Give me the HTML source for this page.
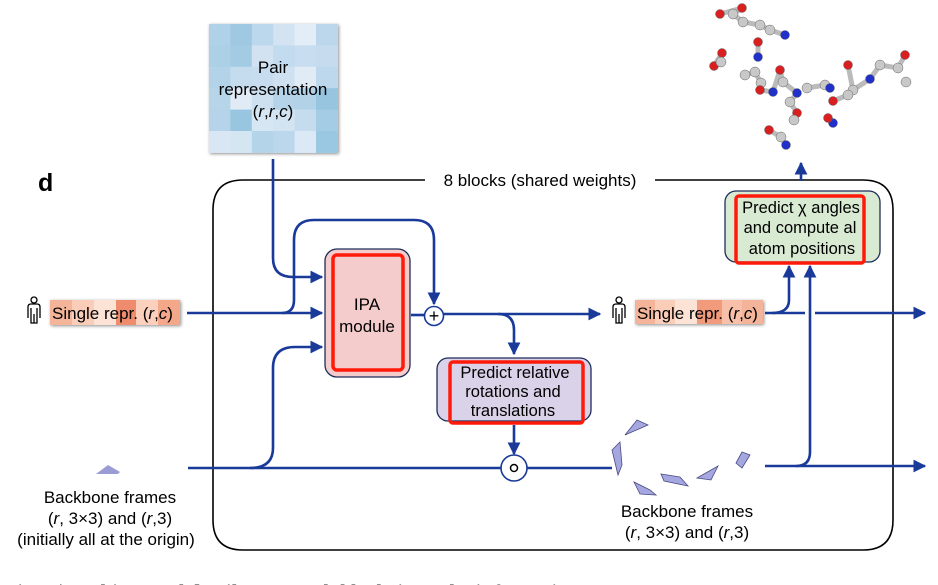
<!DOCTYPE html>
<html><head><meta charset="utf-8"><style>
html,body{margin:0;padding:0;background:#fff;width:938px;height:585px;overflow:hidden}
svg{display:block;font-family:"Liberation Sans",sans-serif}
</style></head><body>
<svg width="938" height="585" viewBox="0 0 938 585">
<defs>
<marker id="ah" viewBox="0 0 10 10" refX="9" refY="5" markerWidth="5" markerHeight="5" orient="auto"><path d="M0,0 L10,5 L0,10 z" fill="#1a3a9a"/></marker>
<filter id="sh" x="-10%" y="-10%" width="130%" height="130%"><feDropShadow dx="1" dy="1" stdDeviation="1.5" flood-opacity="0.45"/></filter>
</defs>

<g filter="url(#sh)">
<g id="pairgrid"></g>
</g>
<text x="273" y="73" font-size="17" text-anchor="middle">Pair</text>
<text x="273" y="95" font-size="17" text-anchor="middle">representation</text>
<text x="273" y="117" font-size="17" text-anchor="middle">(<tspan font-style="italic">r</tspan>,<tspan font-style="italic">r</tspan>,<tspan font-style="italic">c</tspan>)</text>

<text x="38" y="191" font-size="25" font-weight="bold">d</text>

<path d="M425,180 L243,180 Q213,180 213,210 L213,520 Q213,550 243,550 L863,550 Q893,550 893,520 L893,210 Q893,180 863,180 L655,180" fill="none" stroke="#000" stroke-width="1.6"/>
<text x="540" y="186" font-size="17" text-anchor="middle">8 blocks (shared weights)</text>

<g fill="none" stroke="#1a3a9a" stroke-width="2.6">
<path d="M273,159 L273,258 Q273,277 293,277 L322,277" marker-end="url(#ah)"/>
<path d="M187,313 L322,313" marker-end="url(#ah)"/>
<path d="M282,313 Q294,313 294,300 L294,240 Q294,220 314,220 L414,220 Q434,220 434,240 L434,304" marker-end="url(#ah)"/>
<path d="M411,315 L425,315"/>
<path d="M443,314 L600,314" marker-end="url(#ah)"/>
<path d="M498,314 Q514,314 514,330 L514,354" marker-end="url(#ah)"/>
<path d="M514,425 L514,454" marker-end="url(#ah)"/>
<path d="M188,468 L501,468"/>
<path d="M527,468 L612,468"/>
<path d="M250,468 Q273,468 273,448 L273,368 Q273,347 295,347 L322,347" marker-end="url(#ah)"/>
<path d="M765,313 L805,313"/>
<path d="M815,313 L925,313" marker-end="url(#ah)"/>
<path d="M772,313 Q789,313 789,300 L789,266" marker-end="url(#ah)"/>
<path d="M765,466 L925,466" marker-end="url(#ah)"/>
<path d="M796,466 Q810,466 810,452 L810,266" marker-end="url(#ah)"/>
<path d="M801,181 L801,163" marker-end="url(#ah)"/>
</g>

<rect x="325" y="249" width="85" height="128" rx="12" fill="#f4cccc" stroke="#1f2d5a" stroke-width="1.3"/>
<rect x="333" y="255" width="70" height="115" rx="4" fill="none" stroke="#ff1a0a" stroke-width="3.5"/>
<text x="367" y="310" font-size="17" text-anchor="middle">IPA</text>
<text x="367" y="332" font-size="17" text-anchor="middle">module</text>

<circle cx="434" cy="316" r="9.5" fill="#fff" stroke="#1a3a9a" stroke-width="1.6"/>
<text x="434" y="322" font-size="18" text-anchor="middle">+</text>

<rect x="437" y="358" width="154" height="63" rx="11" fill="#d9d2e9" stroke="#1f2d5a" stroke-width="1.3"/>
<rect x="450" y="362" width="133" height="61" rx="3" fill="none" stroke="#ff1a0a" stroke-width="3.5"/>
<text x="515" y="378" font-size="16.5" text-anchor="middle">Predict relative</text>
<text x="513" y="397" font-size="16.5" text-anchor="middle">rotations and</text>
<text x="513" y="416" font-size="16.5" text-anchor="middle">translations</text>

<circle cx="514" cy="468" r="13" fill="#fff" stroke="#1a3a9a" stroke-width="1.6"/>
<circle cx="514" cy="468" r="3.5" fill="none" stroke="#000" stroke-width="1.5"/>

<rect x="725" y="191" width="155" height="71" rx="11" fill="#d9ead3" stroke="#1f2d5a" stroke-width="1.3"/>
<rect x="736" y="196" width="128" height="67" rx="3" fill="none" stroke="#ff1a0a" stroke-width="3.5"/>
<text x="801" y="213" font-size="16.5" text-anchor="middle">Predict χ angles</text>
<text x="800" y="233" font-size="16.5" text-anchor="middle">and compute al</text>
<text x="802" y="254" font-size="16.5" text-anchor="middle">atom positions</text>

<g>
<g filter="url(#sh)"><rect x="50" y="300" width="130" height="25" fill="#f4b49a"/></g>
<rect x="72" y="300" width="22" height="25" fill="#f9cdb8"/><rect x="94" y="300" width="22" height="25" fill="#fde3d6"/><rect x="116" y="300" width="20" height="25" fill="#f08c6e"/><rect x="136" y="300" width="22" height="25" fill="#fbd0bd"/><rect x="158" y="300" width="22" height="25" fill="#f5a889"/>
<text x="52" y="319" font-size="17">Single repr. (<tspan font-style="italic">r</tspan>,<tspan font-style="italic">c</tspan>)</text>
</g>
<g>
<g filter="url(#sh)"><rect x="635" y="300" width="128" height="24" fill="#f4b49a"/></g>
<rect x="655" y="300" width="20" height="24" fill="#f9cdb8"/><rect x="675" y="300" width="22" height="24" fill="#fde3d6"/><rect x="697" y="300" width="25" height="24" fill="#f29a7c"/><rect x="722" y="300" width="20" height="24" fill="#f8c0a8"/>
<text x="637" y="319" font-size="17">Single repr. (<tspan font-style="italic">r</tspan>,<tspan font-style="italic">c</tspan>)</text>
</g>
<g fill="#fff" stroke="#000" stroke-width="1.3">
<circle cx="34" cy="300" r="3"/><path d="M28,318 L28,307 Q28,304 31,304 L37,304 Q40,304 40,307 L40,318 M31,308 L31,323 L37,323 L37,308 M34,314 L34,323"/>
<circle cx="619" cy="300" r="3"/><path d="M613,318 L613,307 Q613,304 616,304 L622,304 Q625,304 625,307 L625,318 M616,308 L616,323 L622,323 L622,308 M619,314 L619,323"/>
</g>

<polygon points="96,474 108,465 120,472 118,474" fill="#9b9bd6"/>
<g fill="#a5a7e0" stroke="#4a4a80" stroke-width="0.8">
<polygon points="625,435 637,420 648,425"/>
<polygon points="612,450 620,442 622,465 618,475"/>
<polygon points="634,482 650,490 656,495 640,494"/>
<polygon points="661,474 680,477 688,486 664,481"/>
<polygon points="697,478 718,466 711,480"/>
<polygon points="736,463 742,452 750,455 742,468"/>
</g>
<text x="110" y="503" font-size="17" text-anchor="middle">Backbone frames</text>
<text x="110" y="524" font-size="17" text-anchor="middle">(<tspan font-style="italic">r</tspan>, 3×3) and (<tspan font-style="italic">r</tspan>,3)</text>
<text x="106" y="545" font-size="17" text-anchor="middle">(initially all at the origin)</text>
<text x="687" y="517" font-size="17" text-anchor="middle">Backbone frames</text>
<text x="687" y="538" font-size="17" text-anchor="middle">(<tspan font-style="italic">r</tspan>, 3×3) and (<tspan font-style="italic">r</tspan>,3)</text>

<g id="mol"></g>

<text x="2" y="599" font-size="21" font-family="Liberation Serif,serif" font-weight="bold" font-style="italic" fill="#222">Fig. 3 | Architectural details. For each block, its ... the information</text>
</svg>
<script>
const pairShades=[
["#b0d2e8","#9fc9e3","#bcd8ec","#d3e3f2","#e3edf7","#bcd7eb"],
["#acd0e6","#a3cbe4","#d2e2f1","#c3dbee","#c8ddef","#c6dcee"],
["#b3d3e8","#c5dcee","#c7dcee","#cfe1f1","#e0ebf6","#bdd8ec"],
["#b6d5e9","#e0ebf6","#cce0f0","#b4d3e9","#b2d2e8","#97c5e0"],
["#b5d4e9","#98c6e0","#d6e6f3","#d2e3f2","#c5dbee","#a4cce4"],
["#d9e7f4","#d5e6f3","#b4d4e9","#bcd7eb","#dbe8f5","#9ac7e1"]];
const g=document.getElementById('pairgrid');
pairShades.forEach((row,i)=>row.forEach((c,j)=>{
 const r=document.createElementNS('http://www.w3.org/2000/svg','rect');
 r.setAttribute('x',209+j*21.4);r.setAttribute('y',24+i*21.4);
 r.setAttribute('width',21.9);r.setAttribute('height',21.9);r.setAttribute('fill',c);
 
 
 g.appendChild(r);}));
const atoms=[[720,14,"r"],[742,8,"r"],[733,14,"w"],[743,22,"w"],[760,25,"w"],[770,30,"w"],[785,35,"b"],[758,42,"r"],[758,57,"b"],[722,53,"r"],[714,66,"r"],[721,62,"w"],[745,75,"w"],[755,72,"w"],[761,83,"w"],[760,90,"r"],[773,92,"b"],[780,70,"r"],[783,82,"w"],[797,93,"b"],[790,102,"w"],[797,113,"r"],[794,120,"w"],[769,130,"r"],[781,137,"w"],[786,145,"b"],[807,88,"w"],[825,85,"w"],[830,88,"b"],[848,65,"r"],[853,90,"w"],[870,79,"b"],[880,65,"w"],[898,68,"w"],[905,55,"r"],[906,82,"w"],[833,101,"r"],[848,95,"w"],[833,123,"b"],[828,118,"r"]];
const mol=document.getElementById('mol');
const NS='http://www.w3.org/2000/svg';
for(let k=1;k<atoms.length;k++){const a=atoms[k-1],b=atoms[k];if(Math.hypot(a[0]-b[0],a[1]-b[1])<26){const l=document.createElementNS(NS,'line');l.setAttribute('x1',a[0]);l.setAttribute('y1',a[1]);l.setAttribute('x2',b[0]);l.setAttribute('y2',b[1]);l.setAttribute('stroke','#bbb');l.setAttribute('stroke-width','5');mol.appendChild(l);}}
const col={r:"#d82020",w:"#c8c8c8",b:"#2030c8"};
atoms.forEach(a=>{const c=document.createElementNS(NS,'circle');c.setAttribute('cx',a[0]);c.setAttribute('cy',a[1]);c.setAttribute('r',a[2]=="w"?5:4.5);c.setAttribute('fill',col[a[2]]);c.setAttribute('stroke','#666');c.setAttribute('stroke-width','0.5');


mol.appendChild(c);});
</script>
</body></html>
